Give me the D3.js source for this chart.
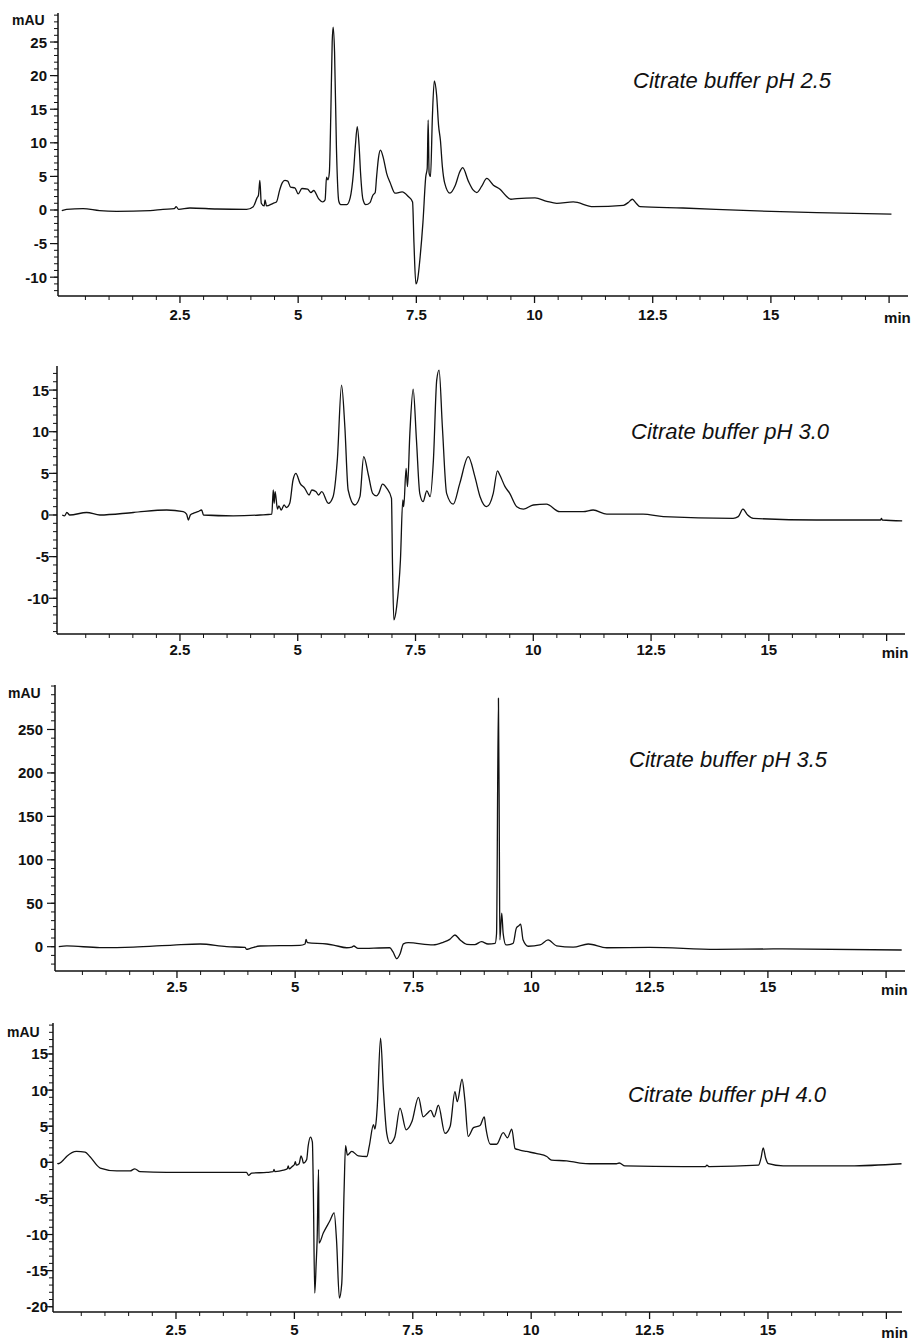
<!DOCTYPE html>
<html>
<head>
<meta charset="utf-8">
<script src="https://cdn.jsdelivr.net/npm/d3@7"></script>
<style>
  body { margin: 0; background: #fff; }
  svg text { font-family: "Liberation Sans", Arial, sans-serif; fill: #111; }
</style>
</head>
<body>
<div id="chart"></div>
<script>
// chromatogram traces, [time (min), absorbance (mAU)]
const ph25 = [[0,-0.1],[0.1,0.1],[0.45,0.2],[0.8,-0.1],[1.16,-0.2],[1.87,-0.1],[2.14,0.1],[2.38,0.2],[2.42,0.5],[2.47,0.1],[2.71,0.3],[3.28,0.15],[3.91,0.1],[4.05,0.5],[4.13,1.8],[4.16,2.2],[4.19,4.4],[4.22,1.0],[4.28,0.6],[4.3,1.5],[4.33,0.6],[4.47,1.0],[4.54,1.2],[4.61,3.0],[4.66,4.0],[4.72,4.4],[4.78,4.3],[4.84,3.4],[4.93,3.3],[5.0,2.4],[5.08,3.2],[5.2,3.1],[5.27,2.6],[5.33,2.9],[5.43,1.7],[5.52,1.2],[5.57,1.5],[5.6,4.9],[5.63,4.5],[5.66,5.6],[5.69,14],[5.72,25],[5.74,27.2],[5.77,23.5],[5.81,9.2],[5.86,1.3],[5.9,0.8],[6.03,0.8],[6.1,1.8],[6.17,5.6],[6.21,9.5],[6.25,12.4],[6.29,9.5],[6.32,5.5],[6.37,1.6],[6.43,0.8],[6.52,1.1],[6.58,2.2],[6.63,2.6],[6.66,5.0],[6.7,7.8],[6.74,8.9],[6.8,7.8],[6.87,5.5],[6.95,4.0],[7.05,2.5],[7.2,2.7],[7.33,2.0],[7.42,1.2],[7.45,-5],[7.49,-11.0],[7.53,-10.2],[7.58,-7],[7.64,-1.8],[7.7,5.0],[7.73,6.2],[7.75,13.4],[7.77,5.5],[7.8,5.0],[7.84,14],[7.88,19.2],[7.93,17],[7.97,12.6],[8.01,10.3],[8.05,6.5],[8.1,4.0],[8.21,2.5],[8.32,3.6],[8.42,5.7],[8.48,6.3],[8.6,4.3],[8.7,3.0],[8.78,2.6],[8.88,3.5],[8.99,4.7],[9.13,3.7],[9.27,3.1],[9.4,2.1],[9.5,1.6],[9.63,1.7],[10.01,1.8],[10.26,1.3],[10.47,1.0],[10.82,1.2],[11.24,0.5],[11.88,0.7],[11.98,1.1],[12.07,1.6],[12.15,1.0],[12.23,0.5],[13.14,0.3],[14.56,-0.1],[15.97,-0.4],[17.55,-0.6]];

const ph30 = [[0,0],[0.05,-0.1],[0.1,0.3],[0.16,0],[0.52,0.3],[0.8,0],[1.51,0.3],[2.22,0.6],[2.57,0.4],[2.64,0.1],[2.68,-0.6],[2.72,0],[2.78,0.2],[2.88,0.4],[2.96,0.6],[3.0,0.0],[3.63,-0.1],[4.2,0],[4.45,0.1],[4.48,3.0],[4.5,1.4],[4.52,2.8],[4.57,0.7],[4.6,1.1],[4.65,0.6],[4.71,1.2],[4.76,0.9],[4.83,1.4],[4.9,4.2],[4.96,5.0],[5.05,3.8],[5.15,3.2],[5.24,2.4],[5.3,3.0],[5.39,2.8],[5.44,2.4],[5.51,2.8],[5.65,1.4],[5.75,2.2],[5.84,6.6],[5.93,15.6],[6.0,10.6],[6.07,3.0],[6.21,1.2],[6.32,2.2],[6.4,7.0],[6.5,4.8],[6.59,2.6],[6.67,2.3],[6.72,2.6],[6.8,3.7],[6.89,3.2],[6.99,2.0],[7.01,-5.4],[7.04,-12.6],[7.1,-11],[7.18,-5.4],[7.23,1.8],[7.25,1.0],[7.3,5.6],[7.33,3.4],[7.38,9.8],[7.45,15.1],[7.52,9.0],[7.59,2.6],[7.66,1.6],[7.74,2.9],[7.81,2.2],[7.88,6.6],[7.95,16.2],[8.0,17.4],[8.07,10.6],[8.16,2.6],[8.3,1.3],[8.44,3.8],[8.62,7.0],[8.76,4.6],[8.87,2.2],[9.01,1.0],[9.15,2.6],[9.24,5.3],[9.29,4.8],[9.4,3.4],[9.5,2.6],[9.65,1.0],[9.79,0.7],[10.0,1.2],[10.28,1.3],[10.56,0.4],[11.06,0.4],[11.27,0.6],[11.56,0.1],[12.33,0.1],[12.76,-0.2],[14.24,-0.4],[14.35,-0.2],[14.45,0.7],[14.55,0.0],[14.67,-0.4],[16.01,-0.6],[17.37,-0.6],[17.39,-0.4],[17.41,-0.6],[17.83,-0.7]];

const ph35 = [[0,0],[0.17,0.9],[0.87,-1],[1.58,-0.4],[2.42,1.9],[2.99,3.1],[3.55,0],[3.94,-0.7],[3.97,-3],[4.05,-2],[4.26,0.8],[5.1,1.5],[5.21,3.1],[5.23,8.4],[5.26,4.6],[5.67,3.1],[5.81,1.9],[6.09,-1.2],[6.2,-0.5],[6.24,0.8],[6.33,-1.9],[7.0,-1.2],[7.07,-6],[7.15,-13.8],[7.22,-8],[7.29,3.2],[7.39,4.6],[7.92,2.0],[8.13,5.0],[8.27,8.4],[8.38,13.5],[8.49,7.8],[8.63,2.8],[8.8,2.4],[8.94,5.8],[9.08,3.1],[9.23,3.9],[9.26,15],[9.3,286],[9.32,110],[9.33,8],[9.37,38.5],[9.4,15],[9.46,2.0],[9.61,3.9],[9.68,21.5],[9.73,24],[9.77,26],[9.82,8],[9.93,0.5],[10.18,2.0],[10.35,7.8],[10.53,1.0],[10.88,-0.5],[11.2,3.1],[11.59,-1.2],[12.5,-0.8],[13.91,-3],[15.11,-2.6],[17.83,-3.8]];

const ph40 = [[0,-0.1],[0.01,-0.2],[0.09,0.1],[0.19,0.8],[0.4,1.5],[0.58,1.4],[0.68,0.8],[0.9,-0.8],[1.25,-1.2],[1.53,-1.2],[1.63,-0.9],[1.74,-1.3],[2.3,-1.4],[3.99,-1.4],[4.03,-1.8],[4.1,-1.5],[4.42,-1.4],[4.55,-1.3],[4.57,-1.0],[4.59,-1.3],[4.77,-1.1],[4.85,-0.9],[4.87,-0.5],[4.89,-0.9],[4.95,-0.6],[5.0,-0.3],[5.02,0.1],[5.04,-0.4],[5.1,-0.2],[5.14,0.9],[5.17,0.4],[5.19,-0.1],[5.26,0.4],[5.29,2.2],[5.34,3.5],[5.38,2.8],[5.4,-3.8],[5.43,-18.1],[5.46,-14],[5.48,-10.8],[5.51,-1.0],[5.52,-11.2],[5.61,-9.8],[5.75,-8.1],[5.84,-7.0],[5.89,-10.8],[5.95,-18.8],[6.0,-16.8],[6.05,-3.8],[6.08,2.3],[6.12,1.0],[6.21,1.5],[6.35,0.9],[6.53,0.8],[6.58,2.2],[6.67,5.2],[6.7,4.6],[6.73,5.9],[6.75,7.7],[6.82,17.2],[6.88,10.0],[6.95,4.0],[7.02,2.6],[7.12,3.5],[7.23,7.5],[7.36,4.5],[7.48,5.6],[7.62,9.0],[7.72,6.3],[7.81,6.8],[7.88,7.2],[7.95,6.3],[8.04,7.9],[8.18,4.0],[8.29,5.0],[8.39,9.8],[8.44,8.4],[8.54,11.5],[8.6,8.6],[8.67,3.6],[8.78,4.8],[8.92,5.1],[9.01,6.3],[9.04,4.9],[9.14,2.5],[9.27,2.5],[9.41,4.1],[9.5,3.4],[9.59,4.6],[9.66,1.9],[9.76,1.7],[9.9,1.5],[10.12,1.2],[10.33,0.8],[10.43,0.3],[10.75,0.2],[11.03,-0.1],[11.24,-0.2],[11.8,-0.2],[11.86,-0.1],[11.98,-0.5],[13.21,-0.6],[13.68,-0.6],[13.71,-0.4],[13.76,-0.6],[14.8,-0.4],[14.85,0.5],[14.9,2.0],[14.95,0.6],[15.01,-0.2],[15.32,-0.5],[16.73,-0.5],[17.82,-0.2]];

const titles = ["Citrate buffer pH 2.5", "Citrate buffer pH 3.0", "Citrate buffer pH 3.5", "Citrate buffer pH 4.0"];
const xTicks = [2.5, 5, 7.5, 10, 12.5, 15];
const xTickLabels = ["2.5", "5", "7.5", "10", "12.5", "15"];
const yTicks25 = [-10, -5, 0, 5, 10, 15, 20, 25];
const yTicks30 = [-10, -5, 0, 5, 10, 15];
const yTicks35 = [0, 50, 100, 150, 200, 250];
const yTicks40 = [-20, -15, -10, -5, 0, 5, 10, 15];

const width = 912, height = 1341;

// page layout of the four stacked panels
const panels = [
  { data: ph25, title: titles[0], yTicks: yTicks25, minor: [-12, 29, 1], unit: [12, 25],
    left: 58, right: 908, top: 13, bottom: 296, xDom: [-0.08, 17.9], yDom: [-12.8, 29.32],
    titleAt: [633, 88], xLab: 24, yGap: 11 },
  { data: ph30, title: titles[1], yTicks: yTicks30, minor: [-14, 17, 1], unit: null,
    left: 57, right: 905, top: 366, bottom: 634, xDom: [-0.11, 17.89], yDom: [-14.29, 17.89],
    titleAt: [631, 439], xLab: 21, yGap: 8 },
  { data: ph35, title: titles[2], yTicks: yTicks35, minor: [-20, 300, 10], unit: [8, 698],
    left: 55, right: 905, top: 685, bottom: 971, xDom: [-0.08, 17.9], yDom: [-27.96, 301.2],
    titleAt: [629, 767], xLab: 21, yGap: 12 },
  { data: ph40, title: titles[3], yTicks: yTicks40, minor: [-20, 19, 1], unit: [7, 1037],
    left: 53, right: 902, top: 1023, bottom: 1312, xDom: [-0.097, 17.83], yDom: [-20.73, 19.29],
    titleAt: [628, 1102], xLab: 23, yGap: 5 }
];

const svg = d3.select("#chart").append("svg")
  .attr("width", width)
  .attr("height", height)
  .style("display", "block");

panels.forEach(p => {
  const x = d3.scaleLinear().domain(p.xDom).range([p.left, p.right]);
  const y = d3.scaleLinear().domain(p.yDom).range([p.bottom, p.top]);
  const g = svg.append("g");

  // axes lines
  g.append("line")
    .attr("x1", p.left).attr("x2", p.left)
    .attr("y1", p.top).attr("y2", p.bottom)
    .attr("stroke", "#111").attr("stroke-width", 1.5);
  g.append("line")
    .attr("x1", p.left).attr("x2", p.right)
    .attr("y1", p.bottom).attr("y2", p.bottom)
    .attr("stroke", "#111").attr("stroke-width", 1.5);

  // y ticks
  const minorY = d3.range(p.minor[0], p.minor[1] + 1e-9, p.minor[2]);
  g.selectAll(".ymin").data(minorY).join("line")
    .attr("x1", p.left - 4).attr("x2", p.left)
    .attr("y1", d => y(d)).attr("y2", d => y(d))
    .attr("stroke", "#111").attr("stroke-width", 1);
  g.selectAll(".ymaj").data(p.yTicks).join("line")
    .attr("x1", p.left - 8).attr("x2", p.left)
    .attr("y1", d => y(d)).attr("y2", d => y(d))
    .attr("stroke", "#111").attr("stroke-width", 1.2);
  g.selectAll(".ylab").data(p.yTicks).join("text")
    .attr("x", p.left - p.yGap)
    .attr("y", d => y(d) + 5.5)
    .attr("text-anchor", "end")
    .attr("font-size", 15)
    .attr("font-weight", "bold")
    .text(d => d);

  // x ticks
  const minorX = d3.range(0.5, 17.51, 0.5);
  g.selectAll(".xmin").data(minorX).join("line")
    .attr("x1", d => x(d)).attr("x2", d => x(d))
    .attr("y1", p.bottom).attr("y2", d => p.bottom + (d % 2.5 === 0 ? 7 : 4))
    .attr("stroke", "#111").attr("stroke-width", d => d % 2.5 === 0 ? 1.3 : 1);
  g.selectAll(".xlab").data(xTicks).join("text")
    .attr("x", d => x(d))
    .attr("y", p.bottom + p.xLab)
    .attr("text-anchor", "middle")
    .attr("font-size", 15)
    .attr("font-weight", "bold")
    .text((d, i) => xTickLabels[i]);
  g.append("text")
    .attr("x", x(17.5) - 5)
    .attr("y", p.bottom + p.xLab + 3)
    .attr("font-size", 15)
    .attr("font-weight", "bold")
    .text("min");

  if (p.unit) {
    g.append("text")
      .attr("x", p.unit[0]).attr("y", p.unit[1])
      .attr("font-size", 14)
      .attr("font-weight", "bold")
      .text("mAU");
  }

  g.append("text")
    .attr("x", p.titleAt[0]).attr("y", p.titleAt[1])
    .attr("font-size", 22)
    .attr("font-style", "italic")
    .text(p.title);

  const line = d3.line()
    .x(d => x(d[0]))
    .y(d => y(d[1]))
    .curve(d3.curveMonotoneX);

  g.append("path")
    .datum(p.data)
    .attr("d", line)
    .attr("fill", "none")
    .attr("stroke", "#111")
    .attr("stroke-width", 1.3)
    .attr("stroke-linejoin", "round");
});
</script>
</body>
</html>
